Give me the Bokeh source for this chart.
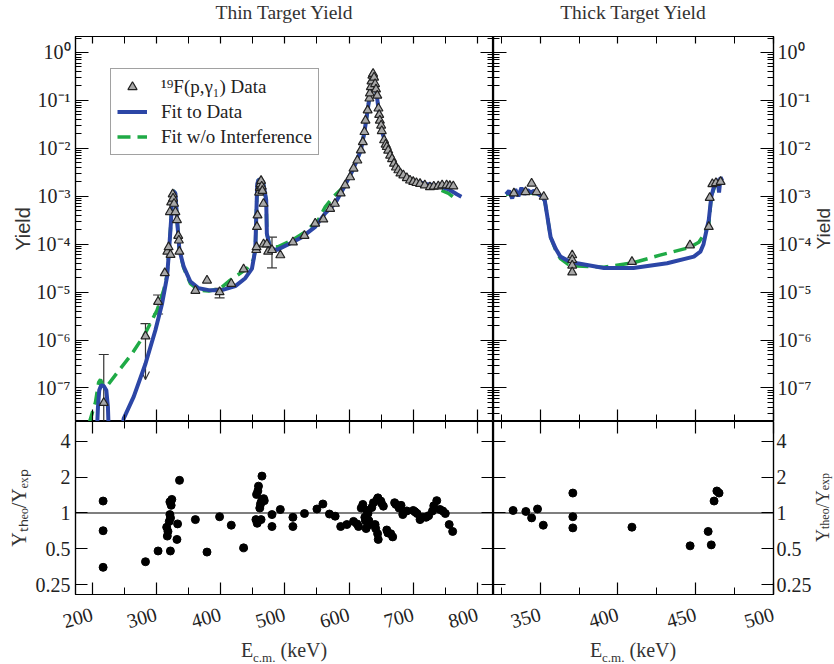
import math
from bokeh.plotting import figure
from bokeh.models import (Range1d, LinearAxis, LogAxis, FixedTicker, CustomJSTickFormatter,
                          Span, Legend, LegendItem, Whisker, TeeHead, OpenHead,
                          ColumnDataSource, Div)
from bokeh.layouts import column, row
from bokeh.embed import file_html
from bokeh.resources import INLINE

SERIF = "Liberation Serif"
BLUE = "#2c46a6"
GREEN = "#1faa46"

# ---------------- data ----------------
# Thin target yield data (triangles)
thin_E = [218, 283, 302.6, 313, 317, 319, 321, 322, 323, 325.4, 326, 327.5, 329.6, 332, 334, 335, 335.8,
          360.7, 378.8, 398.4, 416.6, 435.8, 455.5, 456, 456.6, 457.5, 460, 461, 462, 463, 464, 465,
          466.8, 466.9, 472, 474, 480, 493, 512.6, 530.6, 547.3, 560, 570.6, 578, 587, 594, 601.7, 607,
          613, 618.4, 621.5, 624, 625.6, 629, 631.7, 632.5, 634, 635, 636.4, 637.5, 639, 640.6, 642,
          644, 645.8, 647, 648, 650, 651, 654.6, 657, 658.8, 661, 664, 667, 670, 673, 676.8, 680,
          684.6, 690, 695, 700, 705, 710.6, 718, 726, 732, 739, 745, 752, 757, 762.4]
thin_Y = [4.9e-8, 1.2e-6, 6.3e-6, 2.5e-5, 7e-5, 8.7e-5, 4.7e-4, 6e-5, 7.5e-4, 1.1e-3, 9e-4, 7e-4, 4.7e-4,
          3.2e-4, 1.5e-4, 1.2e-4, 7e-5,
          1.07e-5, 1.75e-5, 1.0e-5, 1.5e-5, 3.0e-5, 7.6e-5, 8.7e-5, 2.3e-4, 4e-4, 1.2e-3, 1.5e-3, 1.8e-3,
          2.1e-3, 1.6e-3, 1.3e-3,
          7e-4, 1.0e-4, 1.0e-4, 7e-5, 7.6e-5, 5.9e-5, 1.1e-4, 1.5e-4, 2.7e-4, 3.3e-4, 5.5e-4, 7e-4,
          1.15e-3, 1.7e-3, 2.5e-3, 3.8e-3,
          5.6e-3, 9.1e-3, 1.35e-2, 2.2e-2, 3.8e-2, 6.2e-2, 0.11, 0.14, 0.19, 0.25, 0.33, 0.36, 0.30, 0.22,
          0.17,
          0.126, 0.068, 0.05, 0.038, 0.03, 0.023, 0.0148, 0.012, 0.0107, 0.009, 0.0071, 0.006, 0.0048,
          0.004, 0.0035, 0.003,
          0.00275, 0.0024, 0.00214, 0.002, 0.0019, 0.00182, 0.0017, 0.00155, 0.0016, 0.00162, 0.0017,
          0.0017, 0.00165, 0.00162]

# Error bars (thin target)
err_E = [302.6, 398.4, 480]
err_lo = [3.5e-6, 7.6e-6, 3.2e-5]
err_hi = [8.7e-6, 1.2e-5, 1.4e-4]
err1_E = [218]
err1_lo = [2.1e-8]
err1_hi = [5e-7]
lim_E = [283]
lim_lo = [1.5e-7]
lim_hi = [2.2e-6]

# Fit to data (thin)
fit_E = [200, 207, 209, 211, 214, 218, 222, 224.5, 226, 236, 249, 264.7, 283, 298.4, 308.9, 316.6, 319,
         322.9, 324.4, 326, 329.6, 332.2, 335.8, 342.5, 352.9, 365.8, 381.4, 402, 422.9, 438.4, 448.8,
         454, 455.5, 457, 459, 462, 465, 467, 471, 472, 477.3, 487.7, 505.8, 526.6, 547.3, 562.8, 578,
         594, 607, 618.4, 624, 629, 634, 637, 641, 645.8, 651, 658.8, 670, 684.6, 700, 720, 740, 755,
         768, 775]
fit_Y = [1e-9, 1e-8, 4e-8, 9e-8, 1.15e-7, 1.1e-7, 9e-8, 4e-8, 1e-8, 1e-9, 2.3e-8, 6.6e-8, 3.2e-7,
         1.6e-6, 5.8e-6, 2.1e-5, 5.5e-5,
         3.2e-4, 9.8e-4, 1.3e-3, 1.15e-3, 3.2e-4, 7.6e-5, 3.4e-5, 1.66e-5, 1.2e-5, 1.1e-5, 1.1e-5,
         1.33e-5, 1.95e-5, 3.1e-5,
         7.6e-5, 3.7e-4, 1.8e-3, 2.2e-3, 2.2e-3, 2.1e-3, 1.7e-3, 8.3e-4, 1.66e-4, 8.1e-5, 7.6e-5,
         1.0e-4, 1.4e-4, 2.3e-4, 4.4e-4, 7e-4,
         1.7e-3, 3.8e-3, 9.1e-3, 2.2e-2, 6.2e-2, 0.19, 0.36, 0.22, 0.068, 0.023, 0.0107, 0.0048,
         0.00275, 0.0021, 0.0018, 0.00165, 0.0014,
         0.0011, 0.00098]

# Fit without interference (thin)
noint_E = [195, 205, 210, 213, 217, 222, 241.4, 262, 283, 301, 311.4, 316.6, 319, 322.9, 324.4, 326,
           329.6, 332.2, 335.8, 342.5, 352.9, 365.8, 381.4, 400, 415, 441, 451, 454, 455.5, 457, 459,
           462, 465, 467, 471, 472, 477, 490, 511, 531.7, 552, 563, 576, 594, 607, 618.4, 624, 629, 634,
           637, 641, 645.8, 651, 658.8, 670, 684.6, 700, 720, 740, 755, 768]
noint_Y = [1.8e-8, 5e-8, 1.3e-7, 1.5e-7, 1.1e-7, 1.05e-7, 2.3e-7, 5.2e-7, 1.4e-6, 4.2e-6, 1.1e-5,
           2.3e-5, 5.5e-5, 3.2e-4, 9.8e-4, 1.3e-3,
           1.15e-3, 3.2e-4, 7.6e-5, 3.2e-5, 1.5e-5, 1.1e-5, 1.05e-5, 1.2e-5, 1.78e-5, 3.1e-5, 4.7e-5,
           7.6e-5, 3.7e-4, 1.8e-3, 2.2e-3,
           2.2e-3, 2.1e-3, 1.7e-3, 8.3e-4, 1.66e-4, 8.5e-5, 8.9e-5, 1.2e-4, 1.8e-4, 3.2e-4, 6e-4,
           9.8e-4, 1.7e-3, 3.8e-3, 9.1e-3, 2.2e-2, 6.2e-2, 0.19,
           0.36, 0.22, 0.068, 0.023, 0.0107, 0.0048, 0.00275, 0.0021, 0.0017, 0.0014, 0.00115, 0.00083]

# Thick target yield data
thick_E = [333.1, 340.6, 344.5, 347.7, 352.3, 370.6, 370.6, 370.6, 370.6, 409, 446.3, 458.4, 459,
           460.7, 463, 466]
thick_Y = [1.15e-3, 1.23e-3, 1.85e-3, 1.23e-3, 9.8e-4, 5.9e-5, 4.7e-5, 3.6e-5, 2.6e-5, 4.3e-5, 9.5e-5,
           2.3e-4, 9.3e-4, 1.8e-3, 1.9e-3, 2.0e-3]

thickfit_E = [328, 330, 332, 334, 336, 338, 340, 342, 344, 346, 348, 351, 353, 354.5, 356.7, 360, 363,
              368, 373.8, 391, 410, 431.6, 448.8, 453, 455, 457, 458.4, 460, 461.5, 463, 464, 465, 466,
              467]
thickfit_Y = [1.1e-3, 1.3e-3, 9e-4, 1.4e-3, 1.0e-3, 1.5e-3, 1.1e-3, 1.35e-3, 1.2e-3, 1.3e-3, 1.15e-3,
              1.0e-3, 8e-4, 4e-4, 1.4e-4, 8e-5, 5.5e-5,
              4.5e-5, 4e-5, 3.2e-5, 3.2e-5, 4e-5, 5.5e-5, 7e-5, 1.0e-4, 2e-4, 3.2e-4, 9.8e-4, 1.5e-3,
              1.9e-3, 2.3e-3, 1.2e-3, 2.5e-3,
              2.1e-3]

thicknoint_E = [328, 340, 350, 353, 354.5, 356.7, 360, 363, 368, 373.8, 391, 410, 427, 446, 452, 455,
                458.4, 460, 463, 466]
thicknoint_Y = [1.1e-3, 1.2e-3, 1.1e-3, 8e-4, 4e-4, 1.4e-4, 7.5e-5, 5e-5, 3.8e-5, 3.5e-5, 3.3e-5, 4.1e-5,
                5.9e-5, 8.5e-5, 1.1e-4, 1.55e-4, 2.5e-4, 9.8e-4, 1.9e-3, 2.4e-3]

# Ratio Y_theo / Y_exp
ratio_thin_E = [217, 217, 217, 283, 302.6, 316, 317, 318, 321.8, 320, 321, 322, 321, 323, 324, 333, 332,
                336, 360.7, 378.8, 398.4, 416.6, 435.8, 455, 457, 456, 458, 459, 464.4, 461, 462, 463,
                465, 467, 468, 463, 480, 480, 493, 512.6, 512.6, 530.6, 550, 559.3, 569.5, 578.4, 587,
                596.6, 607, 612.4, 614.8, 619, 621.5, 624.6, 625.5, 626.6, 628, 629.5, 631, 632.5, 635.4,
                638, 640.6, 641.5, 643.7, 645, 644.5, 645.5, 649.4, 650.5, 653.5, 658.8, 660.5, 665, 668,
                671, 673, 678, 681, 683.7, 690, 700, 703, 706, 710.6, 714.7, 720, 724, 730, 732, 736.6,
                741.7, 746, 750, 756, 761.4]
ratio_thin_R = [1.26, 0.71, 0.35, 0.39, 0.48, 0.76, 0.64, 0.7, 0.48, 0.85, 0.97, 0.91, 1.24, 1.16, 1.3,
                0.81, 0.6,
                1.88, 0.88, 0.47, 0.93, 0.79, 0.51, 0.88, 0.82, 1.43, 1.53, 1.68, 2.04, 1.1, 1.18, 1.23,
                1.3, 1.32, 1.27, 0.88, 0.97, 0.77, 1.07, 0.92, 0.77, 0.99, 1.08, 1.19, 0.98, 0.94, 0.77,
                0.8, 0.85, 0.81, 0.77, 1.1, 1.18, 0.92, 0.86, 0.74, 1.05, 0.99, 0.86, 0.8, 1.11,
                1.22, 0.8, 0.74, 1.3, 1.34, 0.67, 0.6, 1.26, 1.21, 1.14, 0.72, 0.68, 0.67, 0.63,
                1.22, 1.18, 1.1, 1.16, 0.97, 1.04, 1.05, 1.02, 0.99, 0.88, 0.92, 0.92, 0.95, 1.04, 1.15, 1.27,
                1.07, 1.04, 0.99, 0.8, 0.7]
ratio_thick_E = [332.6, 340.8, 344.5, 348.3, 352, 371, 371, 371, 409, 446.4, 458, 460, 461.8, 463.6, 465]
ratio_thick_R = [1.05, 1.03, 0.91, 1.08, 0.79, 1.47, 0.93, 0.75, 0.76, 0.53, 0.70, 0.54, 1.26, 1.53, 1.47]

# axis tick definitions
yield_decades = [1e-7, 1e-6, 1e-5, 1e-4, 1e-3, 1e-2, 1e-1, 1e0]
ratio_ticks = [0.25, 0.5, 1, 2, 4]
thin_xticks = [200, 300, 400, 500, 600, 700, 800]
thin_xminor = [250, 350, 450, 550, 650, 750]
thick_xticks = [350, 400, 450, 500]
thick_xminor = [325, 375, 425, 475]

# ---------------- helpers ----------------
yield_minor = [k * d for d in [1e-8] + yield_decades for k in range(2, 10)]
ratio_minor = []

sup_code = """
const m = {"-":"\u207b","0":"\u2070","1":"\u00b9","2":"\u00b2","3":"\u00b3","4":"\u2074",
           "5":"\u2075","6":"\u2076","7":"\u2077","8":"\u2078","9":"\u2079"};
const e = Math.round(Math.log10(tick));
return "10" + String(e).split("").map(c => m[c]).join("");
"""
plain_code = "return String(tick);"
blank_code = "return '';"
TICK_FS = "20px"
RATIO_LABEL = "Y\u209c\u2095\u2091\u2092/Y\u2091\u2093\u209a"


def style_axis(ax, show, tin, tmin, standoff=5):
    ax.axis_line_color = "black"
    ax.axis_line_width = 1.2
    ax.major_tick_in = tin
    ax.major_tick_out = 0
    ax.minor_tick_in = tmin
    ax.minor_tick_out = 0
    ax.major_tick_line_color = "black"
    ax.minor_tick_line_color = "black"
    ax.major_tick_line_width = 1.2
    ax.minor_tick_line_width = 1.0
    if show:
        ax.major_label_text_font = SERIF
        ax.major_label_text_font_size = TICK_FS
        ax.major_label_text_color = "#222222"
        ax.major_label_standoff = standoff
    else:
        ax.formatter = CustomJSTickFormatter(code=blank_code)
        ax.major_label_text_font_size = "0px"
        ax.major_label_standoff = 0


def make_fig(fw, fh, xr, yr, ytype, mbl, mbr, mbt, mbb):
    p = figure(frame_width=fw, frame_height=fh, x_range=xr, y_range=yr, y_axis_type=ytype,
               output_backend="svg", toolbar_location=None, tools="",
               min_border_left=mbl, min_border_right=mbr, min_border_top=mbt, min_border_bottom=mbb)
    p.grid.visible = False
    p.outline_line_color = "black"
    p.outline_line_width = 1.2
    p.background_fill_color = "white"
    p.border_fill_color = "white"
    return p


FW_THIN, FW_THICK, FH_Y, FH_R = 418, 280, 385, 173
ML, MR, MT, MB = 75, 38, 10, 46
SIDE_W = 834 - ML - FW_THIN - FW_THICK - MR
TITLE_H, XLAB_H = 26, 22
yr_yield = Range1d(2.0e-8, 2.15)
yr_ratio = Range1d(0.207, 5.86)
xr_thin = Range1d(174, 825)
xr_thick = Range1d(320, 500)


def x_ticker(ticks, minor):
    return FixedTicker(ticks=ticks, minor_ticks=minor)


def label_style(ax, text, font, size, standoff):
    ax.axis_label = text
    ax.axis_label_text_font = font
    ax.axis_label_text_font_size = size
    ax.axis_label_text_font_style = "normal"
    ax.axis_label_text_color = "#333333"
    ax.axis_label_standoff = standoff


def setup_yield(p, xt, xm, left_show):
    bx = p.xaxis[0]
    bx.ticker = x_ticker(xt, xm)
    style_axis(bx, False, 12, 7)
    tx = LinearAxis(ticker=x_ticker(xt, xm))
    style_axis(tx, False, 7, 7)
    p.add_layout(tx, "above")
    ly = p.yaxis[0]
    ly.ticker = FixedTicker(ticks=yield_decades, minor_ticks=yield_minor)
    style_axis(ly, left_show, 13, 6)
    if left_show:
        ly.formatter = CustomJSTickFormatter(code=sup_code)
        label_style(ly, "Yield", "Liberation Sans", "20px", 0)
    ry = LogAxis(ticker=FixedTicker(ticks=yield_decades, minor_ticks=yield_minor))
    style_axis(ry, not left_show, 13, 6, standoff=4)
    if not left_show:
        ry.formatter = CustomJSTickFormatter(code=sup_code)
    p.add_layout(ry, "right")


def setup_ratio(p, xt, xm, left_show):
    bx = p.xaxis[0]
    bx.ticker = x_ticker(xt, xm)
    style_axis(bx, True, 12, 7, standoff=19)
    bx.formatter = CustomJSTickFormatter(code=plain_code)
    bx.major_label_orientation = 0.27
    tx = LinearAxis(ticker=x_ticker(xt, xm))
    style_axis(tx, False, 12, 7)
    p.add_layout(tx, "above")
    ly = p.yaxis[0]
    ly.ticker = FixedTicker(ticks=ratio_ticks, minor_ticks=ratio_minor)
    style_axis(ly, left_show, 12, 6)
    if left_show:
        ly.formatter = CustomJSTickFormatter(code=plain_code)
        label_style(ly, RATIO_LABEL, SERIF, "20px", 3)
    ry = LogAxis(ticker=FixedTicker(ticks=ratio_ticks, minor_ticks=ratio_minor))
    style_axis(ry, not left_show, 12, 6, standoff=3)
    if not left_show:
        ry.formatter = CustomJSTickFormatter(code=plain_code)
    p.add_layout(ry, "right")
    p.add_layout(Span(location=1, dimension="width", line_color="black", line_width=1.2))


# ---------------- thin yield ----------------
pA = make_fig(FW_THIN, FH_Y, xr_thin, yr_yield, "log", ML, 0, MT, 0)
setup_yield(pA, thin_xticks, thin_xminor, True)
rA_green = pA.line(noint_E, noint_Y, line_color=GREEN, line_width=3.5, line_dash="13 7")
rA_blue = pA.line(fit_E, fit_Y, line_color=BLUE, line_width=4)

whisk_style = dict(line_color="#333333", line_width=1.2)
pA.add_layout(Whisker(source=ColumnDataSource(dict(x=err_E, lo=err_lo, hi=err_hi)), base="x",
                      upper="hi", lower="lo", dimension="height",
                      upper_head=TeeHead(size=10, **whisk_style),
                      lower_head=TeeHead(size=10, **whisk_style), **whisk_style))
pA.add_layout(Whisker(source=ColumnDataSource(dict(x=err1_E, lo=err1_lo, hi=err1_hi)), base="x",
                      upper="hi", lower="lo", dimension="height",
                      upper_head=TeeHead(size=10, **whisk_style), lower_head=None, **whisk_style))
pA.add_layout(Whisker(source=ColumnDataSource(dict(x=lim_E, lo=lim_lo, hi=lim_hi)), base="x",
                      upper="hi", lower="lo", dimension="height",
                      upper_head=TeeHead(size=10, **whisk_style),
                      lower_head=OpenHead(size=8, **whisk_style), **whisk_style))

rA_tri = pA.scatter(thin_E, thin_Y, marker="triangle", size=9, fill_color="#a8a8a8",
                    line_color="#222222", line_width=1.2)

legend = Legend(items=[LegendItem(label="\u00b9\u2079F(p,\u03b3\u2081) Data", renderers=[rA_tri]),
                       LegendItem(label="Fit to Data", renderers=[rA_blue]),
                       LegendItem(label="Fit w/o Interference", renderers=[rA_green])],
                location=(35, 266))
legend.label_text_font = SERIF
legend.label_text_font_size = "19px"
legend.label_text_color = "#222222"
legend.border_line_color = "#444444"
legend.border_line_width = 1.5
legend.padding = 6
legend.spacing = 2
legend.glyph_width = 30
legend.glyph_height = 23
legend.label_height = 23
legend.label_standoff = 14
legend.margin = 0
legend.background_fill_color = "white"
pA.add_layout(legend)

# ---------------- thick yield ----------------
pB = make_fig(FW_THICK, FH_Y, xr_thick, yr_yield, "log", 0, MR, MT, 0)
setup_yield(pB, thick_xticks, thick_xminor, False)
pB.line(thicknoint_E, thicknoint_Y, line_color=GREEN, line_width=3.5, line_dash="13 7")
pB.line(thickfit_E, thickfit_Y, line_color=BLUE, line_width=4)
pB.scatter(thick_E, thick_Y, marker="triangle", size=9, fill_color="#a8a8a8",
           line_color="#222222", line_width=1.2)

# ---------------- ratios ----------------
pC = make_fig(FW_THIN, FH_R, xr_thin, yr_ratio, "log", ML, 0, 0, MB)
setup_ratio(pC, thin_xticks, thin_xminor, True)
pC.scatter(ratio_thin_E, ratio_thin_R, marker="circle", size=8, fill_color="black", line_color="black")

pD = make_fig(FW_THICK, FH_R, xr_thick, yr_ratio, "log", 0, MR, 0, MB)
setup_ratio(pD, thick_xticks, thick_xminor, False)
pD.scatter(ratio_thick_E, ratio_thick_R, marker="circle", size=8, fill_color="black", line_color="black")

# ---------------- HTML texts: titles, right-side labels, x labels ----------------
title_html = ('<div style="font-family:\'Liberation Serif\';font-size:19.5px;color:#333;text-align:center;'
              'width:{w}px;margin-left:{ml}px;line-height:{h}px;">{t}</div>')
t1 = Div(text=title_html.format(w=FW_THIN, ml=ML, h=TITLE_H, t="Thin Target Yield"),
         width=ML + FW_THIN, height=TITLE_H, margin=(0, 0, 0, 0))
t2 = Div(text=title_html.format(w=FW_THICK, ml=0, h=TITLE_H, t="Thick Target Yield"),
         width=FW_THICK + MR + SIDE_W, height=TITLE_H, margin=(0, 0, 0, 0))

side_html = ('<div style="width:{w}px;height:{h}px;margin-top:{mt}px;display:flex;align-items:center;'
             'justify-content:flex-start;">'
             '<span style="writing-mode:vertical-rl;transform:rotate(180deg);font-family:{f};'
             'font-size:{fs}px;color:#333;white-space:nowrap;line-height:{lh}px;">{t}</span></div>')
sB = Div(text=side_html.format(w=SIDE_W, h=FH_Y, mt=MT, f="'Liberation Sans'", fs=19, lh=20, t="Yield"),
         width=SIDE_W, height=MT + FH_Y, margin=(0, 0, 0, 0))
sub = '<sub style="font-size:12px;vertical-align:-2px;line-height:0;">{}</sub>'
sD = Div(text=side_html.format(w=SIDE_W, h=FH_R, mt=0, f="'Liberation Serif'", fs=18, lh=19,
                               t="Y" + sub.format("theo") + "/Y" + sub.format("exp")),
         width=SIDE_W, height=FH_R + MB, margin=(0, 0, 0, 0))

lab_html = ('<div style="font-family:\'Liberation Serif\';font-size:20px;color:#333;text-align:center;'
            'width:{w}px;margin-left:{ml}px;line-height:20px;">'
            'E<sub style="font-size:13px;">c.m.</sub> (keV)</div>')
d1 = Div(text=lab_html.format(w=FW_THIN, ml=ML), width=ML + FW_THIN, height=XLAB_H, margin=(0, 0, 0, 0))
d2 = Div(text=lab_html.format(w=FW_THICK, ml=0), width=FW_THICK + MR + SIDE_W, height=XLAB_H,
         margin=(0, 0, 0, 0))

layout = column(row(t1, t2), row(pA, pB, sB), row(pC, pD, sD), row(d1, d2))
open("out.html", "w").write(file_html(layout, INLINE))
